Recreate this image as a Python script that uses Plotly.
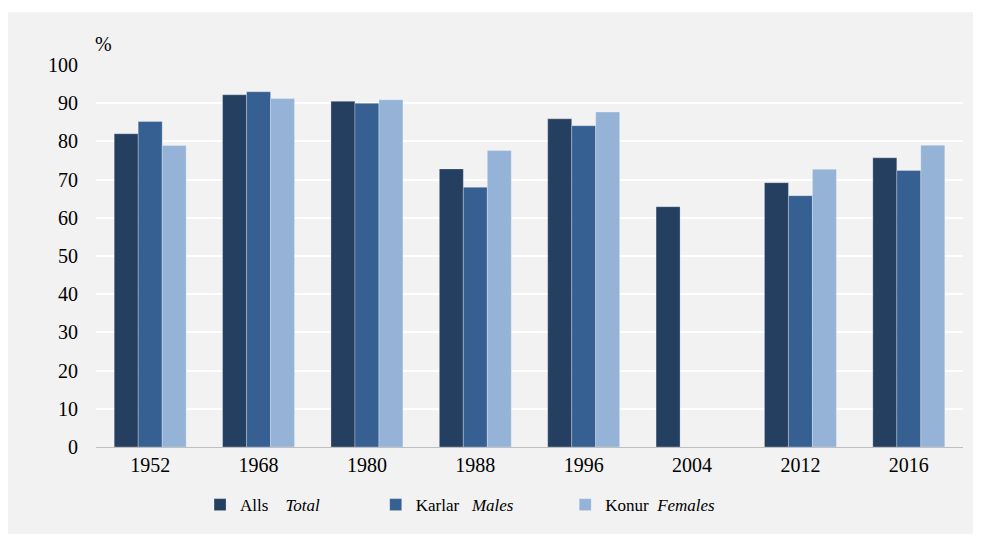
import plotly.graph_objects as go

years = ['1952', '1968', '1980', '1988', '1996', '2004', '2012', '2016']
total = [82.0, 92.2, 90.5, 72.8, 85.9, 62.9, 69.2, 75.7]
males = [85.2, 93.0, 90.0, 68.0, 84.1, None, 65.8, 72.4]
females = [78.9, 91.2, 90.9, 77.6, 87.7, None, 72.7, 79.0]

nb = '\u00a0'
series = [
    ('Alls' + nb * 4 + '<i>Total</i>' + nb * 12, total, '#243F60'),
    ('Karlar' + nb * 3 + '<i>Males</i>' + nb * 11, males, '#366092'),
    ('Konur' + nb * 2 + '<i>Females</i>', females, '#95B3D7'),
]

fig = go.Figure()
for name, vals, col in series:
    fig.add_trace(go.Bar(
        x=years, y=vals, name=name,
        marker=dict(color=col, line=dict(color='rgba(255,255,255,0.35)', width=0.8)),
    ))

font = 'Liberation Serif'
fig.update_layout(
    width=973, height=526,
    barmode='group', bargap=0.336, bargroupgap=0,
    paper_bgcolor='white', plot_bgcolor='#D9D9D9',
    margin=dict(l=88, r=18, t=57, b=86),
    font=dict(family=font, size=20, color='black'),
    showlegend=True,
    legend=dict(orientation='h', x=0.12, xanchor='left', y=-0.149, yanchor='middle',
                font=dict(size=17, family=font), bgcolor='rgba(0,0,0,0)'),
    shapes=[dict(type='rect', xref='paper', yref='paper', layer='below',
                 x0=-0.1015, x1=1.06, y0=-0.3, y1=1.1384,
                 fillcolor='#F2F2F2', line=dict(width=0))],
    annotations=[dict(text='%', xref='paper', yref='paper', x=0.0092, y=1.055,
                      xanchor='center', yanchor='middle', showarrow=False,
                      font=dict(size=20))],
)
fig.update_yaxes(range=[0, 100], dtick=10, showgrid=True, gridcolor='white', gridwidth=2,
                 zeroline=False, ticks='', ticklabelstandoff=17, fixedrange=True,
                 tickfont=dict(family=font))
fig.update_xaxes(showline=True, linecolor='#BFBFBF', linewidth=1, ticks='', showgrid=False,
                 tickfont=dict(family=font))

fig.write_html("out.html")
